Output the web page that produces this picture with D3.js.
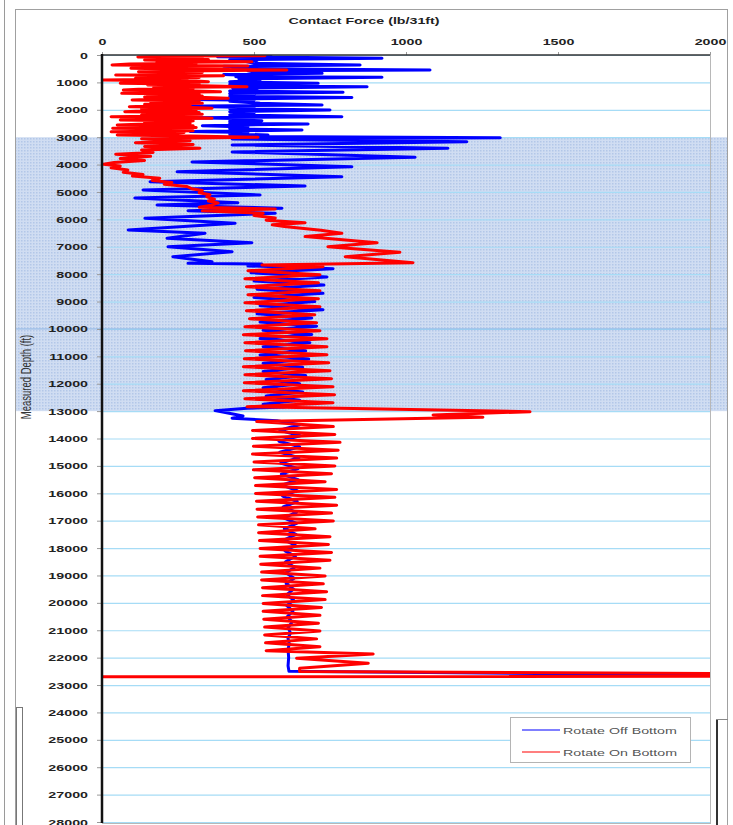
<!doctype HTML>
<html>
<head>
<meta charset="utf-8">
<script src="https://d3js.org/d3.v7.min.js"></script>
<style>
	body { margin: 0; background: #fff; }
	text { font-family: Arial, "Liberation Sans", sans-serif; }
</style>
</head>
<body>
<div id="chart"></div>
<script>
// axis ticks
var forceTicks = [0, 500, 1000, 1500, 2000];
var depthTicks = [0, 1000, 2000, 3000, 4000, 5000, 6000, 7000, 8000, 9000, 10000, 11000, 12000, 13000, 14000,
	15000, 16000, 17000, 18000, 19000, 20000, 21000, 22000, 23000, 24000, 25000, 26000, 27000, 28000];
var seriesNames = ["Rotate Off Bottom", "Rotate On Bottom"];
var seriesColors = ["#0000ff", "#ff0000"];
// depth interval shaded blue
var shadedZone = [3000, 13000];

// [measured depth ft, contact force lb/31ft]
var offBottom = [
	[0,560],[60,380],[120,921],[175,420],[200,510],[230,470],[300,500],[365,849],[410,400],[450,520],
	[500,430],[548,1079],[580,480],[620,500],[670,724],[715,400],[760,510],[790,440],[815,921],[870,450],
	[920,520],[975,420],[1035,711],[1070,420],[1100,500],[1130,420],[1155,872],[1210,430],[1260,510],[1310,420],
	[1360,793],[1410,420],[1460,500],[1505,420],[1555,822],[1620,300],[1650,500],[1690,420],[1760,520],[1825,724],
	[1870,260],[1920,500],[1960,420],[2008,750],[2070,420],[2130,500],[2190,420],[2250,789],[2290,300],[2330,480],
	[2365,420],[2400,526],[2430,420],[2460,480],[2490,420],[2520,678],[2580,330],[2630,480],[2690,420],[2740,658],
	[2790,290],[2830,480],[2880,420],[2920,546],[2970,420],
	[3020,1310],[3066,428],[3165,1200],[3285,428],[3405,1138],[3540,428],[3734,1030],[3905,296],[4077,822],[4260,247],
	[4442,789],[4625,158],[4782,668],[4928,135],[5110,520],[5220,108],[5391,447],[5475,181],[5595,592],[5683,283],
	[5778,570],[5961,141],[6143,438],[6388,86],[6508,339],[6691,214],[6851,493],[6997,217],[7180,428],[7362,233],
	[7545,362],[7604,283],[7630,526],
	[7700,480],[7800,760],[7950,490],[8100,740],[8250,500],[8400,730],[8550,510],[8700,727],[8850,500],[9000,700],
	[9150,520],[9300,727],[9450,510],[9600,690],[9750,520],[9900,706],[10050,530],[10200,690],[10350,520],[10500,684],
	[10650,530],[10800,670],[10950,520],[11100,680],[11250,530],[11400,660],[11550,530],[11700,670],[11850,540],[12000,650],
	[12150,530],[12300,660],[12450,540],[12600,650],[12750,530],[12850,600],[12896,477],[12983,372],[13104,431],[13177,464],
	[13260,428],[13348,575],
	[13500,650],[13700,585],[13900,652],[14100,582],[14300,650],[14500,585],[14700,648],[14900,588],[15100,645],[15300,590],
	[15500,645],[15700,592],[15900,642],[16100,594],[16300,642],[16500,596],[16700,640],[16900,598],[17100,640],[17300,600],
	[17500,638],[17700,600],[17900,636],[18100,602],[18300,636],[18500,604],[18700,634],[18900,605],[19100,632],[19300,606],
	[19500,630],[19700,608],[19900,630],[20100,608],[20300,628],[20500,610],[20700,625],[20900,612],[21100,620],[21300,612],
	[21500,616],[21700,612],[22000,614],[22300,612],[22500,615],[22640,2050]
];

var onBottom = [
	[0,200],[25,536],[50,170],[70,118],[100,330],[130,160],[160,350],[183,140],[215,320],[243,493],
	[270,180],[300,310],[330,90],[365,33],[400,480],[430,160],[460,340],[487,95],[520,300],[548,608],
	[580,260],[610,120],[640,330],[670,150],[700,300],[730,45],[760,400],[790,160],[820,320],[850,110],
	[880,280],[913,3],[945,310],[973,350],[1005,140],[1034,60],[1065,320],[1095,150],[1125,330],[1155,477],
	[1185,170],[1220,300],[1250,120],[1277,70],[1310,310],[1338,390],[1370,160],[1400,65],[1430,320],[1465,150],
	[1500,330],[1530,140],[1555,340],[1582,415],[1612,170],[1643,99],[1675,320],[1705,160],[1735,310],[1764,330],
	[1795,140],[1830,290],[1860,160],[1886,90],[1915,300],[1946,362],[1975,130],[2005,310],[2035,150],[2068,75],
	[2100,320],[2130,160],[2160,330],[2190,130],[2220,300],[2250,30],[2280,310],[2310,362],[2340,130],[2372,60],
	[2405,300],[2433,283],[2465,140],[2495,290],[2525,120],[2555,50],[2585,300],[2615,130],[2645,310],[2676,35],
	[2705,290],[2735,130],[2765,300],[2798,30],[2830,270],[2860,240],[2890,100],[2920,50],[2960,290],[3005,513],
	[3060,130],[3130,290],[3200,110],[3270,300],[3340,140],[3400,322],[3470,130],[3560,168],[3620,45],[3700,160],
	[3780,60],[3850,140],[3920,40],[3990,5],[4050,60],[4120,30],[4200,85],[4280,70],[4360,135],[4420,100],
	[4500,190],[4580,165],[4650,230],[4720,205],[4800,280],[4880,295],[4950,330],[5030,320],[5100,355],[5180,345],
	[5260,370],[5330,350],[5400,382],[5480,360],[5560,320],[5620,570],[5690,330],[5780,530],[5860,500],[5950,570],
	[6030,540],[6120,668],[6200,560],[6265,600],[6400,720],[6508,789],[6630,668],[6850,905],[6997,743],[7200,980],
	[7362,800],[7580,1023],[7665,526],
	[7730,727],[7876,480],[8022,717],[8168,470],[8314,712],[8460,475],[8606,717],[8752,480],[8898,712],[9044,470],
	[9190,717],[9336,475],[9482,700],[9628,485],[9774,706],[9920,470],[10066,717],[10212,465],[10358,740],[10504,470],
	[10650,740],[10796,472],[10942,740],[11088,468],[11234,746],[11380,465],[11526,750],[11672,470],[11818,755],[11964,468],
	[12110,760],[12256,465],[12402,765],[12548,470],[12694,760],[12840,477],
	[13020,1408],[13140,1089],[13225,1253],[13383,509],
	[13566,761],[13709,495],[13853,766],[13996,495],[14140,783],[14283,498],[14427,777],[14570,495],[14714,772],[14857,500],
	[15001,766],[15144,498],[15288,755],[15431,502],[15575,734],[15718,505],[15862,772],[16005,505],[16149,766],[16292,508],
	[16436,772],[16579,510],[16723,755],[16866,512],[17010,761],[17153,515],[17297,701],[17440,515],[17584,750],[17727,518],
	[17871,745],[18014,520],[18158,755],[18301,520],[18445,750],[18588,522],[18732,717],[18875,525],[19019,734],[19162,525],
	[19306,728],[19449,528],[19593,739],[19736,528],[19880,734],[20023,530],[20167,722],[20310,530],[20454,717],[20597,532],
	[20741,712],[20884,535],[21028,717],[21171,535],[21315,706],[21458,538],[21602,717],[21745,540],
	[21864,892],[22022,640],[22205,876],[22387,650],[22510,650],[22600,2400],[22680,2400],[22700,0]
];

var width = 733, height = 825;
// the screenshot is stretched sideways, so text is too
var sx = 1.5;

var svg = d3.select("#chart").append("svg")
	.attr("width", width)
	.attr("height", height);

var x = d3.scaleLinear().domain([0, 2000]).range([102, 710]);
var y = d3.scaleLinear().domain([0, 28000]).range([55, 822]);

/***** background frames left over from the spreadsheet */
svg.append("line").attr("x1", 4.5).attr("x2", 4.5).attr("y1", 0).attr("y2", height)
	.attr("stroke", "#9a9a9a");
svg.append("rect").attr("x", 15.5).attr("y", 9.5).attr("width", 712).attr("height", 840)
	.attr("fill", "#fff").attr("stroke", "#a0a0a0");

/***** shaded depth zone */
var defs = svg.append("defs");
var pat = defs.append("pattern").attr("id", "dots")
	.attr("width", 3).attr("height", 3).attr("patternUnits", "userSpaceOnUse");
pat.append("rect").attr("width", 3).attr("height", 3).attr("fill", "#d0ddf2");
pat.append("rect").attr("width", 1.5).attr("height", 1.5).attr("fill", "#b3c7e8");

svg.append("rect")
	.attr("x", 16).attr("y", y(shadedZone[0]))
	.attr("width", 711).attr("height", y(shadedZone[1]) - y(shadedZone[0]))
	.attr("fill", "url(#dots)");

defs.append("clipPath").attr("id", "plotclip")
	.append("rect").attr("x", 102).attr("y", 55).attr("width", 608).attr("height", 768);

/***** gridlines */
var grid = svg.append("g")
	.attr("transform", "translate(102,0)")
	.call(d3.axisLeft(y).tickValues(depthTicks).tickSize(-608).tickFormat(""));
grid.select(".domain").remove();
grid.selectAll("line").attr("stroke", "#a6dcf6").attr("stroke-width", 1.2);
// darker line across the zone at 10000
svg.append("line").attr("x1", 16).attr("x2", 727).attr("y1", y(10000)).attr("y2", y(10000))
	.attr("stroke", "#8fb6e6");

// plot borders
svg.append("line").attr("x1", 710.5).attr("x2", 710.5).attr("y1", 55).attr("y2", 823)
	.attr("stroke", "#b8b8b8");
svg.append("line").attr("x1", 102).attr("x2", 711).attr("y1", 823.5).attr("y2", 823.5)
	.attr("stroke", "#b8b8b8");

/***** series */
var line = d3.line()
	.x(function(d) { return x(d[1]); })
	.y(function(d) { return y(d[0]); });

var plot = svg.append("g").attr("clip-path", "url(#plotclip)");
[offBottom, onBottom].forEach(function(s, i) {
	plot.append("path")
		.datum(s)
		.attr("d", line)
		.attr("fill", "none")
		.attr("stroke", seriesColors[i])
		.attr("stroke-width", 3)
		.attr("stroke-linejoin", "round");
});

/***** axes */
var yAxis = svg.append("g")
	.attr("transform", "translate(102,0)")
	.call(d3.axisLeft(y).tickValues(depthTicks).tickSize(5).tickFormat(d3.format("d")));
yAxis.select(".domain").remove();
yAxis.selectAll("line").attr("stroke", "#999");
yAxis.selectAll("text")
	.attr("x", -14 / sx)
	.attr("transform", "scale(" + sx + ",1)")
	.attr("font-size", 9.5).attr("font-weight", "bold").attr("fill", "#222")
	.attr("font-family", "Arial, 'Liberation Sans', sans-serif");

var xAxis = svg.append("g")
	.attr("transform", "translate(0,55)")
	.call(d3.axisTop(x).tickValues(forceTicks).tickSize(3).tickFormat(d3.format("d")));
xAxis.select(".domain").remove();
xAxis.selectAll("line").attr("stroke", "#999");
xAxis.selectAll("text")
	.attr("y", -10)
	.attr("transform", "scale(" + sx + ",1)")
	.attr("font-size", 9.5).attr("font-weight", "bold").attr("fill", "#222")
	.attr("font-family", "Arial, 'Liberation Sans', sans-serif");

// axis lines on top
svg.append("line").attr("x1", 102).attr("x2", 710).attr("y1", 55).attr("y2", 55)
	.attr("stroke", "#333").attr("stroke-width", 1.5);
svg.append("line").attr("x1", 102).attr("x2", 102).attr("y1", 54).attr("y2", 823)
	.attr("stroke", "#111").attr("stroke-width", 2.5);

/***** titles */
svg.append("text")
	.attr("transform", "translate(364,24) scale(" + sx + ",1)")
	.attr("text-anchor", "middle")
	.attr("font-size", 9.5).attr("font-weight", "bold").attr("fill", "#222")
	.text("Contact Force (lb/31ft)");

svg.append("text")
	.attr("transform", "translate(27,377) scale(" + sx + ",1) rotate(-90)")
	.attr("text-anchor", "middle")
	.attr("dominant-baseline", "middle")
	.attr("font-size", 9.5).attr("fill", "#333")
	.text("Measured Depth (ft)");

/***** legend */
var legend = svg.append("g");
legend.append("rect").attr("x", 510.5).attr("y", 717.5).attr("width", 180).attr("height", 45)
	.attr("fill", "#fff").attr("stroke", "#b4b4b4");
seriesNames.forEach(function(name, i) {
	var ly = 730 + i * 22;
	legend.append("line").attr("x1", 522).attr("x2", 560).attr("y1", ly).attr("y2", ly)
		.attr("stroke", seriesColors[i]).attr("stroke-width", 1.2);
	legend.append("text")
		.attr("transform", "translate(563," + (ly + 3.5) + ") scale(" + sx + ",1)")
		.attr("font-size", 9.5).attr("fill", "#555")
		.text(name);
});

/***** frames of neighbouring objects */
svg.append("rect").attr("x", 16.5).attr("y", 707.5).attr("width", 6).attr("height", 130)
	.attr("fill", "none").attr("stroke", "#777");
svg.append("line").attr("x1", 717).attr("x2", 717).attr("y1", 719).attr("y2", height)
	.attr("stroke", "#333").attr("stroke-width", 2);
svg.append("line").attr("x1", 716).attr("x2", 728).attr("y1", 719.5).attr("y2", 719.5)
	.attr("stroke", "#888");
</script>
</body>
</html>
